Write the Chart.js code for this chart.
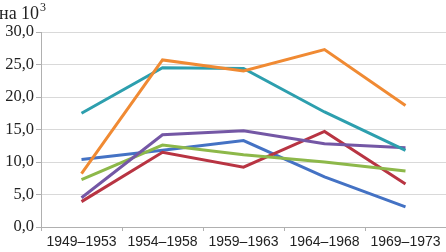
<!DOCTYPE html>
<html><head><meta charset="utf-8">
<script src="https://cdn.jsdelivr.net/npm/chart.js@4/dist/chart.umd.min.js"></script>
<style>html,body{margin:0;padding:0;background:#fff}canvas{display:block}</style>
</head><body>
<canvas id="c" width="446" height="252"></canvas>
<script>
const categories = ["1949–1953","1954–1958","1959–1963","1964–1968","1969–1973"];
const blueSeries   = [10.4, 11.8, 13.3, 7.7, 3.1];
const redSeries    = [3.9, 11.5, 9.2, 14.7, 6.6];
const greenSeries  = [7.3, 12.6, 11.1, 10.0, 8.6];
const purpleSeries = [4.5, 14.2, 14.8, 12.8, 12.2];
const tealSeries   = [17.5, 24.5, 24.4, 17.7, 11.8];
const orangeSeries = [8.2, 25.7, 24.0, 27.3, 18.7];
const yTicks = [0, 5, 10, 15, 20, 25, 30];
const axisTitle = "на 10";
const axisTitleSup = "3";

const mk = (data, color, order) => ({data, borderColor: color, backgroundColor: color, borderWidth: 3, pointRadius: 0, tension: 0, fill: false, order});

const titlePlugin = {
  id: 'ttl',
  afterDraw(chart) {
    const ctx = chart.ctx;
    ctx.save();
    ctx.fillStyle = '#222';
    ctx.font = '18px "Liberation Serif"';
    ctx.textBaseline = 'alphabetic';
    ctx.textAlign = 'left';
    ctx.fillText(axisTitle, -1, 19);
    const w = ctx.measureText(axisTitle).width;
    ctx.font = '12px "Liberation Serif"';
    ctx.fillText(axisTitleSup, -1 + w + 1, 11);
    ctx.restore();
  }
};

new Chart(document.getElementById('c'), {
  type: 'line',
  data: {
    labels: categories,
    datasets: [
      mk(blueSeries, '#4472C4', 6),
      mk(redSeries, '#B83442', 5),
      mk(greenSeries, '#8DB84A', 4),
      mk(purpleSeries, '#7457A5', 3),
      mk(tealSeries, '#2D9FAE', 2),
      mk(orangeSeries, '#F08A33', 1)
    ]
  },
  options: {
    responsive: false,
    animation: false,
    layout: {padding: {top: 32, right: 0, left: 0, bottom: 0}},
    plugins: {legend: {display: false}, tooltip: {enabled: false}, title: {display: false}},
    scales: {
      x: {
        offset: true,
        grid: {display: true, offset: true, drawOnChartArea: false, drawTicks: true, tickLength: 4, color: '#b0b0b0'},
        border: {color: '#b0b0b0'},
        ticks: {color: '#222', font: {family: '"Liberation Sans"', size: 14}, padding: 3, maxRotation: 0, autoSkip: false},
        afterFit(s) { s.height = 25; }
      },
      y: {
        min: 0, max: 30,
        afterBuildTicks(s) { s.ticks = yTicks.map(v => ({value: v})); },
        grid: {color: '#d9d9d9', drawTicks: true, tickLength: 5, tickColor: '#b0b0b0'},
        border: {color: '#b0b0b0'},
        ticks: {color: '#222', font: {family: '"Liberation Serif"', size: 16.5}, padding: 2,
          callback: v => v.toFixed(1).replace('.', ',')},
        afterFit(s) { s.width = 41; }
      }
    }
  },
  plugins: [titlePlugin]
});
</script>
</body></html>
